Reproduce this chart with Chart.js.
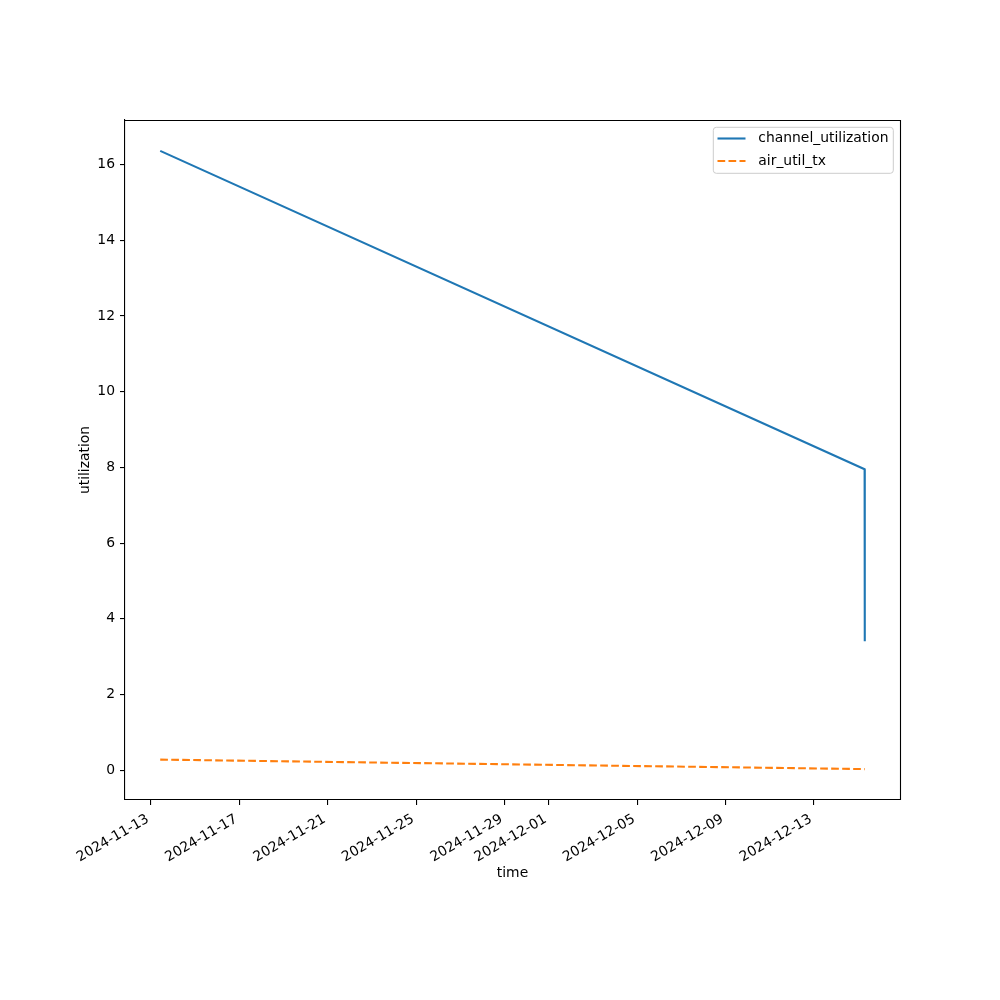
<!DOCTYPE html>
<html>
<head>
<meta charset="utf-8">
<script src="https://cdn.jsdelivr.net/npm/chart.js@4/dist/chart.umd.min.js"></script>
<style>
  html, body { margin: 0; padding: 0; background: #ffffff; }
  #c { display: block; }
</style>
</head>
<body>
<canvas id="c" width="1000" height="1000"></canvas>
<script>
// ---- data ----
const times = ['2024-11-13T10:05:00Z', '2024-12-15T07:10:00Z', '2024-12-15T07:20:00Z'];
const channelUtilization = [16.36, 7.95, 3.41];
const airUtilTx = [0.28, 0.03, 0.03];
const xTickLabels = ['2024-11-13', '2024-11-17', '2024-11-21', '2024-11-25', '2024-11-29',
                     '2024-12-01', '2024-12-05', '2024-12-09', '2024-12-13'];
const yTickValues = [0, 2, 4, 6, 8, 10, 12, 14, 16];
const seriesNames = ['channel_utilization', 'air_util_tx'];
const xTitle = 'time';
const yTitle = 'utilization';

const FONT = 'DejaVu Sans';
const FS = 13.9;

const tMs = times.map(t => Date.parse(t));
const xTickMs = xTickLabels.map(d => Date.parse(d + 'T00:00:00Z'));

function pad2(n) { return (n < 10 ? '0' : '') + n; }
function fmtDate(ms) {
  const d = new Date(ms);
  return d.getUTCFullYear() + '-' + pad2(d.getUTCMonth() + 1) + '-' + pad2(d.getUTCDate());
}

// axis limits: data range with 5% margins (matplotlib default)
const xMinD = Math.min(...tMs), xMaxD = Math.max(...tMs);
const xm = (xMaxD - xMinD) * 0.05;
const allY = channelUtilization.concat(airUtilTx);
const yMinD = Math.min(...allY), yMaxD = Math.max(...allY);
const ym = (yMaxD - yMinD) * 0.05;

const blueData = tMs.map((t, i) => ({ x: t, y: channelUtilization[i] }));
const orangeData = tMs.map((t, i) => ({ x: t, y: airUtilTx[i] }));

const frameAndLegend = {
  id: 'frameAndLegend',
  afterDraw(chart) {
    const ctx = chart.ctx;
    const a = chart.chartArea;
    ctx.save();
    // top and right spines
    ctx.strokeStyle = '#000';
    ctx.lineWidth = 1.1;
    ctx.beginPath();
    ctx.moveTo(a.left, a.top + 0.5);
    ctx.lineTo(a.right + 0.5, a.top + 0.5);
    ctx.lineTo(a.right + 0.5, a.bottom);
    ctx.stroke();

    // axis titles
    ctx.fillStyle = '#000';
    ctx.font = FS + 'px "' + FONT + '"';
    ctx.textAlign = 'center';
    ctx.textBaseline = 'middle';
    ctx.fillText(xTitle, (a.left + a.right) / 2, 873);
    ctx.save();
    ctx.translate(85, (a.top + a.bottom) / 2);
    ctx.rotate(-Math.PI / 2);
    ctx.fillText(yTitle, 0, 0);
    ctx.restore();

    // legend
    const bx = 713.3, by = 127.3, bw = 180, bh = 46;
    ctx.beginPath();
    ctx.roundRect(bx, by, bw, bh, 3);
    ctx.fillStyle = 'rgba(255,255,255,0.8)';
    ctx.fill();
    ctx.strokeStyle = '#cccccc';
    ctx.lineWidth = 1;
    ctx.stroke();

    const ds = chart.data.datasets;
    const rows = [138.5, 161];
    for (let i = 0; i < ds.length; i++) {
      ctx.beginPath();
      ctx.strokeStyle = ds[i].borderColor;
      ctx.lineWidth = ds[i].borderWidth;
      ctx.setLineDash(ds[i].borderDash || []);
      ctx.moveTo(717.5, rows[i]);
      ctx.lineTo(745.5, rows[i]);
      ctx.stroke();
      ctx.setLineDash([]);
      ctx.fillStyle = '#000';
      ctx.textAlign = 'left';
      ctx.textBaseline = 'middle';
      ctx.fillText(ds[i].label, 758.3, rows[i]);
    }
    ctx.restore();
  }
};

new Chart(document.getElementById('c'), {
  type: 'line',
  data: {
    datasets: [
      {
        label: seriesNames[0],
        data: blueData,
        borderColor: '#1f77b4',
        backgroundColor: '#1f77b4',
        borderWidth: 2.1,
        pointRadius: 0,
        tension: 0,
        fill: false
      },
      {
        label: seriesNames[1],
        data: orangeData,
        borderColor: '#ff7f0e',
        backgroundColor: '#ff7f0e',
        borderWidth: 2.1,
        borderDash: [7.7, 3.3],
        pointRadius: 0,
        tension: 0,
        fill: false
      }
    ]
  },
  options: {
    responsive: false,
    animation: false,
    devicePixelRatio: 1,
    layout: { padding: { left: 1, right: 100, top: 120, bottom: 0 } },
    plugins: {
      legend: { display: false },
      title: { display: false },
      tooltip: { enabled: false }
    },
    scales: {
      x: {
        type: 'linear',
        min: xMinD - xm,
        max: xMaxD + xm,
        afterFit(scale) { scale.height = 200; },
        afterBuildTicks(scale) { scale.ticks = xTickMs.map(v => ({ value: v })); },
        grid: { drawOnChartArea: false, drawTicks: true, tickLength: 5, color: '#000', lineWidth: 1.1 },
        border: { display: true, color: '#000', width: 1.1 },
        ticks: {
          autoSkip: false,
          minRotation: 30,
          maxRotation: 30,
          padding: 6,
          labelOffset: -3,
          color: '#000',
          font: { family: FONT, size: FS },
          callback: (v) => fmtDate(v)
        },
        title: { display: false }
      },
      y: {
        type: 'linear',
        min: yMinD - ym,
        max: yMaxD + ym,
        afterFit(scale) { scale.width = 124; },
        afterBuildTicks(scale) { scale.ticks = yTickValues.map(v => ({ value: v })); },
        grid: { drawOnChartArea: false, drawTicks: true, tickLength: 5, color: '#000', lineWidth: 1.1 },
        border: { display: true, color: '#000', width: 1.1 },
        ticks: {
          padding: 5,
          color: '#000',
          font: { family: FONT, size: FS },
          callback: (v) => String(v)
        },
        title: { display: false }
      }
    }
  },
  plugins: [frameAndLegend]
});
</script>
</body>
</html>
